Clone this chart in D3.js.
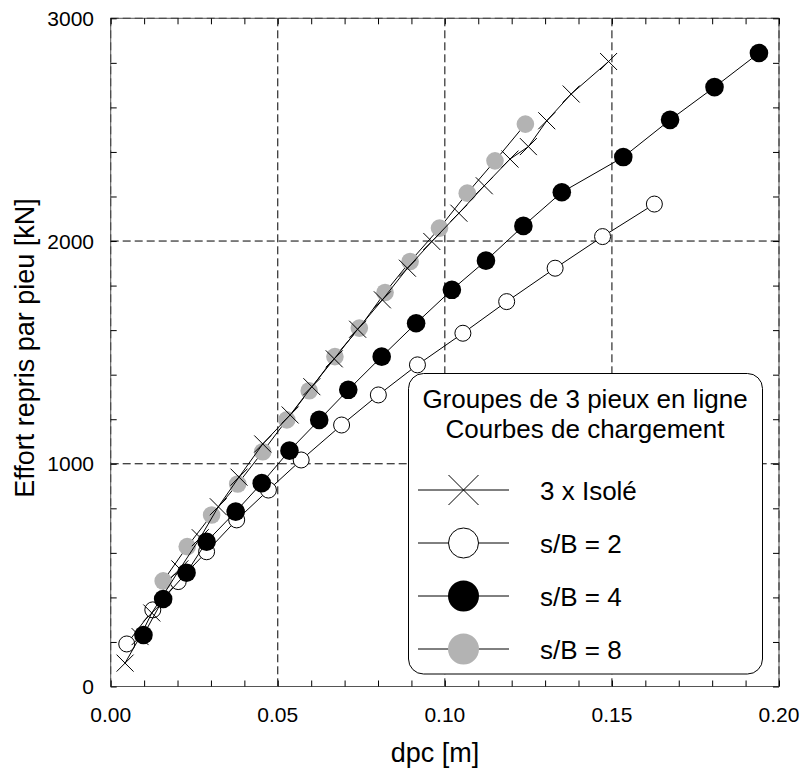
<!DOCTYPE html>
<html>
<head>
<meta charset="utf-8">
<script src="https://cdn.jsdelivr.net/npm/d3@7"></script>
<style>
  html, body { margin: 0; padding: 0; background: #fff; }
  svg { display: block; font-family: "Liberation Sans", Arial, Helvetica, sans-serif; }
</style>
</head>
<body>
<svg id="chart" width="802" height="776"></svg>
<script>
// ---- Data ----
const isoleX = [0.0043, 0.0088, 0.0123, 0.0207, 0.0268, 0.0322, 0.0384, 0.0455, 0.0537, 0.0602, 0.0669, 0.0739, 0.0813, 0.0888, 0.0961, 0.1042, 0.1118, 0.1195, 0.1250, 0.1305, 0.1378, 0.1490];
const isoleY = [105, 224, 330, 528, 668, 807, 940, 1089, 1219, 1346, 1471, 1604, 1736, 1878, 1998, 2125, 2248, 2368, 2424, 2540, 2660, 2806];

const sb2X = [0.0048, 0.0126, 0.0202, 0.0287, 0.0377, 0.0472, 0.0570, 0.0691, 0.0801, 0.0918, 0.1054, 0.1185, 0.1330, 0.1472, 0.1627];
const sb2Y = [191, 344, 471, 605, 748, 882, 1017, 1174, 1309, 1444, 1586, 1728, 1878, 2020, 2166];

const sb4X = [0.0098, 0.0157, 0.0227, 0.0287, 0.0374, 0.0452, 0.0535, 0.0624, 0.0711, 0.0811, 0.0914, 0.1021, 0.1123, 0.1235, 0.1350, 0.1534, 0.1674, 0.1807, 0.1940];
const sb4Y = [231, 393, 511, 650, 785, 913, 1059, 1197, 1332, 1481, 1631, 1781, 1912, 2068, 2219, 2377, 2544, 2691, 2844];

const sb8X = [0.0157, 0.0229, 0.0302, 0.0380, 0.0455, 0.0527, 0.0594, 0.0671, 0.0744, 0.0821, 0.0896, 0.0984, 0.1067, 0.1150, 0.1241];
const sb8Y = [474, 628, 770, 909, 1054, 1197, 1328, 1481, 1609, 1769, 1908, 2058, 2215, 2360, 2525];

const xMajorTicks = [0.00, 0.05, 0.10, 0.15, 0.20];
const xTickLabels = ["0.00", "0.05", "0.10", "0.15", "0.20"];
const yMajorTicks = [0, 1000, 2000, 3000];
const yTickLabels = ["0", "1000", "2000", "3000"];

const legendTitle = ["Groupes de 3 pieux en ligne", "Courbes de chargement"];
const seriesNames = ["3 x Isolé", "s/B = 2", "s/B = 4", "s/B = 8"];
const xLabel = "dpc [m]";
const yLabel = "Effort repris par pieu [kN]";

// ---- Layout ----
const svg = d3.select("#chart");
const L = 110.7, R = 779, T = 18.3, B = 686.5;
const x = d3.scaleLinear().domain([0, 0.2]).range([L, R]);
const y = d3.scaleLinear().domain([0, 3000]).range([B, T]);

const GRAY = "#b3b3b3";

// Gridlines (dashed)
const grid = svg.append("g").attr("stroke", "#000").attr("stroke-width", 1)
  .attr("stroke-dasharray", "8,4").attr("fill", "none");
xMajorTicks.forEach(v => {
  grid.append("line").attr("x1", x(v)).attr("x2", x(v)).attr("y1", T).attr("y2", B);
});
yMajorTicks.forEach(v => {
  grid.append("line").attr("x1", L).attr("x2", R).attr("y1", y(v)).attr("y2", y(v));
});

// Frame
svg.append("rect").attr("x", L).attr("y", T).attr("width", R - L).attr("height", B - T)
  .attr("fill", "none").attr("stroke", "#555").attr("stroke-width", 1);

// Axes with inward ticks (minor every 0.01 / 200)
const xMinor = d3.range(0, 0.2001, 0.01);
const yMinor = d3.range(0, 3001, 200);
const tickLen = 6;
const axB = svg.append("g").attr("transform", `translate(0,${B})`)
  .call(d3.axisBottom(x).tickValues(xMinor).tickSize(-tickLen).tickFormat(""));
const axT = svg.append("g").attr("transform", `translate(0,${T})`)
  .call(d3.axisTop(x).tickValues(xMinor).tickSize(-tickLen).tickFormat(""));
const axL = svg.append("g").attr("transform", `translate(${L},0)`)
  .call(d3.axisLeft(y).tickValues(yMinor).tickSize(-tickLen).tickFormat(""));
const axR = svg.append("g").attr("transform", `translate(${R},0)`)
  .call(d3.axisRight(y).tickValues(yMinor).tickSize(-tickLen).tickFormat(""));
[axB, axT, axL, axR].forEach(a => {
  a.select(".domain").remove();
  a.selectAll(".tick line").attr("stroke", "#000").attr("stroke-width", 1);
});

// Tick labels
svg.append("g").selectAll("text").data(xMajorTicks).join("text")
  .attr("x", d => x(d)).attr("y", 722)
  .attr("text-anchor", "middle").attr("font-size", 21).attr("fill", "#000")
  .text((d, i) => xTickLabels[i]);
svg.append("g").selectAll("text").data(yMajorTicks).join("text")
  .attr("x", 94).attr("y", d => y(d) + 7.5)
  .attr("text-anchor", "end").attr("font-size", 21).attr("fill", "#000")
  .text((d, i) => yTickLabels[i]);

// Axis titles
svg.append("text").attr("x", 435).attr("y", 762).attr("text-anchor", "middle")
  .attr("font-size", 27).attr("fill", "#000").text(xLabel);
svg.append("text").attr("transform", "translate(34,348) rotate(-90)")
  .attr("text-anchor", "middle").attr("font-size", 27).attr("fill", "#000").text(yLabel);

// ---- Series ----
const line = d3.line().x(d => x(d[0])).y(d => y(d[1]));
function pts(xs, ys) { return xs.map((v, i) => [v, ys[i]]); }

function crossPath(s) { return `M${-s},${-s}L${s},${s}M${-s},${s}L${s},${-s}`; }

function drawSeries(data, kind) {
  const g = svg.append("g");
  g.append("path").datum(data).attr("d", line)
    .attr("fill", "none").attr("stroke", "#000").attr("stroke-width", 1);
  const m = g.selectAll(".m").data(data).join("g")
    .attr("transform", d => `translate(${x(d[0])},${y(d[1])})`);
  drawMarker(m, kind, false);
}
function drawMarker(sel, kind, big) {
  if (kind === "cross") {
    sel.append("path").attr("d", crossPath(big ? 15 : 8.5))
      .attr("stroke", "#000").attr("stroke-width", 1).attr("fill", "none");
  } else if (kind === "open") {
    sel.append("circle").attr("r", big ? 15 : 8).attr("fill", "#fff")
      .attr("stroke", "#000").attr("stroke-width", 1);
  } else if (kind === "black") {
    sel.append("circle").attr("r", big ? 15.5 : 9.3).attr("fill", "#000");
  } else if (kind === "gray") {
    sel.append("circle").attr("r", big ? 15.5 : 8.8).attr("fill", GRAY);
  }
}

drawSeries(pts(sb2X, sb2Y), "open");
drawSeries(pts(sb8X, sb8Y), "gray");
drawSeries(pts(isoleX, isoleY), "cross");
drawSeries(pts(sb4X, sb4Y), "black");

// ---- Legend ----
const lg = svg.append("g");
lg.append("rect").attr("x", 408.5).attr("y", 373.5).attr("width", 354).attr("height", 300.5)
  .attr("rx", 15).attr("ry", 15).attr("fill", "#fff").attr("stroke", "#000").attr("stroke-width", 1);
legendTitle.forEach((t, i) => {
  lg.append("text").attr("x", 585).attr("y", 408 + i * 29.5).attr("text-anchor", "middle")
    .attr("font-size", 26).attr("fill", "#000").text(t);
});
const kinds = ["cross", "open", "black", "gray"];
const rowY = [490, 543, 596, 649];
kinds.forEach((k, i) => {
  const row = lg.append("g").attr("transform", `translate(0,${rowY[i]})`);
  row.append("line").attr("x1", 418).attr("x2", 509).attr("y1", 0).attr("y2", 0)
    .attr("stroke", "#000").attr("stroke-width", 1);
  const mk = row.append("g").attr("transform", "translate(463.5,0)");
  drawMarker(mk, k, true);
  row.append("text").attr("x", 540).attr("y", 9.5).attr("font-size", 26).attr("fill", "#000")
    .text(seriesNames[i]);
});
</script>
</body>
</html>
